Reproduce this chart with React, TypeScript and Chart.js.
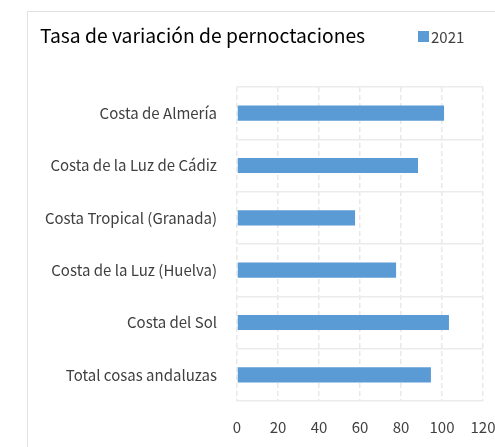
import React, { useEffect, useRef } from "react";
import { Chart, registerables } from "chart.js";
Chart.register(...registerables);

const categories = [
  "Costa de Almería",
  "Costa de la Luz de Cádiz",
  "Costa Tropical (Granada)",
  "Costa de la Luz (Huelva)",
  "Costa del Sol",
  "Total cosas andaluzas",
];
const values2021 = [101, 88.3, 57.6, 77.6, 103.4, 94.6];
const seriesLabel = "2021";
const chartTitle = "Tasa de variación de pernoctaciones";
const xMin = 0;
const xMax = 120;
const xStep = 20;

const FONT = "'Noto Sans CJK JP', 'Noto Sans', sans-serif";
const BLUE = "#5B9BD5";

const headerPlugin = {
  id: "header",
  afterDraw(chart: any) {
    const ctx = chart.ctx;
    ctx.save();
    ctx.fillStyle = "#000";
    ctx.font = `19.3px ${FONT}`;
    ctx.textBaseline = "middle";
    ctx.textAlign = "left";
    ctx.fillText(chartTitle, 40, 36);
    const ds = chart.data.datasets[0];
    ctx.fillStyle = ds.backgroundColor;
    ctx.fillRect(418, 31, 11, 11);
    ctx.fillStyle = "#404040";
    ctx.font = `15px ${FONT}`;
    ctx.fillText(ds.label, 431, 37);
    ctx.restore();
  },
};

export default function App() {
  const ref = useRef<HTMLCanvasElement>(null);
  useEffect(() => {
    if (!ref.current) return;
    const chart = new Chart(ref.current, {
      type: "bar",
      data: {
        labels: categories,
        datasets: [
          {
            label: seriesLabel,
            data: values2021,
            backgroundColor: BLUE,
            borderWidth: 0,
            categoryPercentage: 1,
            barPercentage: 0.29,
          },
        ],
      },
      options: {
        indexAxis: "y",
        animation: false,
        responsive: false,
        maintainAspectRatio: false,
        layout: { padding: { top: 87, left: 27, right: 0, bottom: 11 } },
        plugins: {
          legend: { display: false },
          title: { display: false },
          tooltip: { enabled: false },
        },
        scales: {
          x: {
            min: xMin,
            max: xMax,
            afterFit(scale: any) {
              scale.height = 35;
              scale.paddingRight = 12;
              scale.paddingLeft = 0;
            },
            ticks: {
              stepSize: xStep,
              padding: 17,
              maxRotation: 0,
              minRotation: 0,
              color: "#404040",
              font: { family: FONT, size: 15 },
            },
            grid: {
              color: "#e8e8e8",
              drawTicks: false,
              lineWidth: 1.5,
            },
            border: { display: false, dash: [5, 3] },
          },
          y: {
            afterFit(scale: any) {
              scale.width = 210;
              scale.paddingTop = 0;
              scale.paddingBottom = 0;
            },
            ticks: {
              padding: 20,
              color: "#404040",
              font: { family: FONT, size: 15 },
            },
            grid: {
              color: "#ebebeb",
              lineWidth: 1.5,
              drawTicks: false,
              offset: true,
            },
            border: { display: false },
          },
        },
      },
      plugins: [headerPlugin],
    });
    return () => chart.destroy();
  }, []);
  return (
    <div style={{ position: "absolute", left: 0, top: 0, width: 495, height: 447, background: "#fff", overflow: "hidden" }}>
      <div
        style={{
          position: "absolute",
          left: 27,
          top: 11,
          width: 500,
          height: 460,
          border: "1px solid #e2e2e2",
          boxSizing: "border-box",
        }}
      />
      <canvas ref={ref} width={495} height={447} style={{ position: "absolute", left: 0, top: 0 }} />
    </div>
  );
}
